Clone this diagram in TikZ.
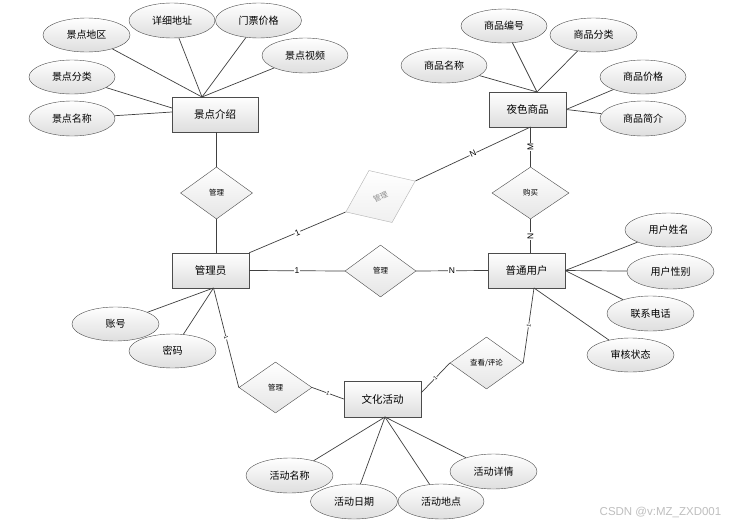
\documentclass[tikz,border=0pt]{standalone}
\usepackage{fontspec}
\setmainfont{Liberation Sans}
\newfontfamily\cjk{Noto Sans CJK SC}
\usetikzlibrary{shapes.geometric}
\begin{document}
\begin{tikzpicture}[x=1pt,y=-1pt,
  ent/.style={rectangle, draw=black!70, top color=white, bottom color=black!13, minimum width=77pt, minimum height=35pt, inner sep=0pt, font=\cjk\fontsize{10.5}{12}\selectfont},
  att/.style={ellipse, draw=black!70, top color=white, bottom color=black!13, minimum width=87pt, minimum height=34pt, inner sep=0pt, font=\cjk\fontsize{10}{12}\selectfont},
  rel/.style={diamond, draw=black!70, top color=white, bottom color=black!10, minimum width=73pt, minimum height=52pt, inner sep=0pt, font=\cjk\fontsize{7.5}{9}\selectfont},
  conn/.style={draw=black!75, line width=0.7pt},
  card/.style={fill=white, inner sep=0.6pt, font=\fontsize{8.5}{9}\selectfont},
  cardsm/.style={fill=white, inner sep=0.3pt, font=\fontsize{5.5}{6}\selectfont, sloped},
]
\useasboundingbox (0,0) rectangle (737,525);
\fill[white] (0,0) rectangle (737,525);

% entities
\node[ent, minimum width=86pt] (jd) at (215,114.5) {景点介绍};
\node[ent] (ys) at (527.5,109.5) {夜色商品};
\node[ent] (gly) at (210.5,270.5) {管理员};
\node[ent] (pt) at (526.5,270.5) {普通用户};
\node[ent, minimum height=36pt] (wh) at (382.5,399) {文化活动};

% relationships
\node[rel, minimum width=72pt] (d1) at (216.5,193) {管理};
\node[rel, rotate=24, minimum width=76pt, minimum height=57pt, draw=black!30, text=black!45, bottom color=black!6] (d2) at (380.5,196.5) {管理};
\node[rel, minimum width=77pt] (d3) at (530.5,193) {购买};
\node[rel, minimum width=71pt] (d4) at (380.5,271) {管理};
\node[rel, minimum height=51pt] (d5) at (275.5,387.5) {管理};
\node[rel] (d6) at (486.5,363) {查看/评论};

% attributes of 景点介绍
\node[att] (a1) at (86.5,35) {景点地区};
\node[att, minimum width=86pt, minimum height=35pt] (a2) at (172,20.5) {详细地址};
\node[att, minimum width=86pt, minimum height=35pt] (a3) at (258.5,20.5) {门票价格};
\node[att, minimum width=86pt, minimum height=35pt] (a4) at (305,55.5) {景点视频};
\node[att, minimum width=86pt] (a5) at (72,77) {景点分类};
\node[att, minimum width=86pt, minimum height=35pt] (a6) at (72,118.5) {景点名称};

% attributes of 夜色商品
\node[att, minimum width=86pt] (b1) at (504,26) {商品编号};
\node[att] (b2) at (593.5,35) {商品分类};
\node[att, minimum width=86pt, minimum height=35pt] (b3) at (444,65.5) {商品名称};
\node[att, minimum width=86pt] (b4) at (643,77) {商品价格};
\node[att, minimum width=86pt, minimum height=35pt] (b5) at (643,118.5) {商品简介};

% attributes of 普通用户
\node[att] (c1) at (668.5,230) {用户姓名};
\node[att, minimum height=35pt] (c2) at (670.5,271.5) {用户性别};
\node[att, minimum height=35pt] (c3) at (650.5,313.5) {联系电话};
\node[att] (c4) at (630.5,355) {审核状态};

% attributes of 管理员
\node[att] (e1) at (115.5,324) {账号};
\node[att] (e2) at (172.5,351) {密码};

% attributes of 文化活动
\node[att, minimum height=35pt] (f1) at (289.5,475.5) {活动名称};
\node[att, minimum height=35pt] (f2) at (354,501.5) {活动日期};
\node[att, minimum width=86pt, minimum height=35pt] (f3) at (441,501.5) {活动地点};
\node[att, minimum height=35pt] (f4) at (493.5,471.5) {活动详情};

% connection points
\coordinate (jdT) at (202,97);
\coordinate (jdL1) at (172,108);
\coordinate (jdL2) at (172,112);
\coordinate (ysT) at (537,92);
\coordinate (ysB) at (530.5,127);
\coordinate (ptS) at (534,288);
\coordinate (glyB) at (213.5,288);
\coordinate (whB) at (385,417);
\coordinate (whR) at (421,393);

% attribute connectors
\draw[conn] (a1) -- (jdT);
\draw[conn] (a2) -- (jdT);
\draw[conn] (a3) -- (jdT);
\draw[conn] (a4) -- (jdT);
\draw[conn] (a5) -- (jdL1);
\draw[conn] (a6) -- (jdL2);

\draw[conn] (b1) -- (ysT);
\draw[conn] (b2) -- (ysT);
\draw[conn] (b3) -- (ysT);
\draw[conn] (b4) -- (ys.east);
\draw[conn] (b5) -- (ys.east);

\draw[conn] (c1) -- (pt.east);
\draw[conn] (c2) -- (pt.east);
\draw[conn] (c3) -- (pt.east);
\draw[conn] (c4) -- (ptS);

\draw[conn] (e1) -- (glyB);
\draw[conn] (e2) -- (glyB);

\draw[conn] (f1) -- (whB);
\draw[conn] (f2) -- (whB);
\draw[conn] (f3) -- (whB);
\draw[conn] (f4) -- (whB);

% relationship connectors
\draw[conn] (d1.north |- jd.south) -- (d1.north);
\draw[conn] (d1.south) -- (d1.south |- gly.north);
\draw[conn] (gly.north east) -- node[card, sloped] {1} (d2.west);
\draw[conn] (ysB) -- node[card, sloped] {N} (d2.east);
\draw[conn] (ysB) -- node[card, rotate=90] {M} (d3.north);
\draw[conn] (d3.south) -- node[card, rotate=90] {N} (d3.south |- pt.north);
\draw[conn] (gly.east) -- node[card] {1} (d4.west);
\draw[conn] (d4.east) -- node[card] {N} (pt.west);
\draw[conn] (glyB) -- node[cardsm] {1} (d5.west);
\draw[conn] (d5.east) -- node[cardsm] {1} (wh.west);
\draw[conn] (ptS) -- node[cardsm] {1} (d6.east);
\draw[conn] (whR) -- node[cardsm] {1} (d6.west);

% watermark
\node[font=\fontsize{11.5}{12}\selectfont, text=black!25] (wm) at (660.5,512.5) {CSDN @v:MZ\_ZXD001};
\end{tikzpicture}
\end{document}
